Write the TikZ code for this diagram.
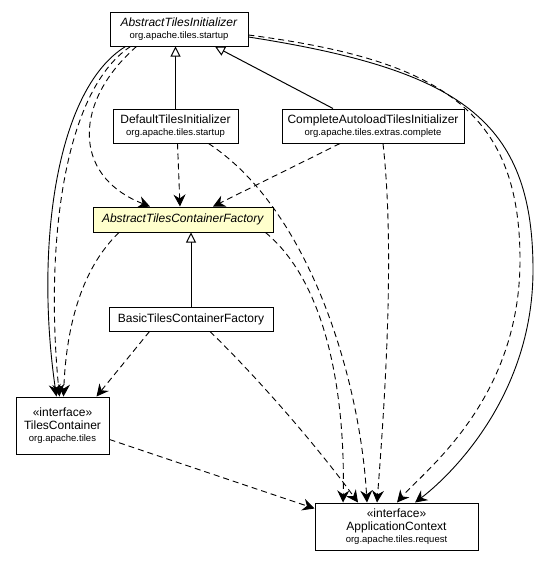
\documentclass[tikz,border=0pt]{standalone}
\usepackage{fontspec}
\setmainfont{Liberation Sans}
\usetikzlibrary{arrows.meta,calc}
\definecolor{absfill}{HTML}{FFFFCC}
\tikzset{
  cls/.style={draw=black, line width=1pt, fill=white, align=center, inner sep=0pt, font=\fontsize{12}{14}\selectfont},
  dep/.style={dashed, dash pattern=on 6pt off 4pt, line width=0.9pt, -{Stealth[length=12pt,width=12pt,inset=4pt]}},
  assoc/.style={line width=0.9pt, -{Stealth[length=12pt,width=12pt,inset=4pt]}},
  gen/.style={line width=1pt, -{Triangle[open,length=10pt,width=10pt,fill=white]}}
}
\newcommand{\pk}[1]{{\fontsize{9.5}{11}\selectfont #1}}
\begin{document}
\begin{tikzpicture}[x=1pt,y=-1pt]
\useasboundingbox (0,0) rectangle (538,563);
\node[cls, minimum width=138, minimum height=34] (ati) at (179,29) {\textit{AbstractTilesInitializer}\\[-2pt]\pk{org.apache.tiles.startup}};
\node[cls, minimum width=125, minimum height=34] (dti) at (175.5,126) {DefaultTilesInitializer\\[-2pt]\pk{org.apache.tiles.startup}};
\node[cls, minimum width=182, minimum height=34] (cati) at (373,126) {CompleteAutoloadTilesInitializer\\[-2pt]\pk{org.apache.tiles.extras.complete}};
\node[cls, fill=absfill, minimum width=180, minimum height=25] (atcf) at (183,219.5) {\textit{AbstractTilesContainerFactory}};
\node[cls, minimum width=164, minimum height=24] (btcf) at (191,319) {BasicTilesContainerFactory};
\node[cls, minimum width=93, minimum height=57] (tc) at (62.5,425.5) {«interface»\\[-1pt]TilesContainer\\[-2pt]\pk{org.apache.tiles}};
\node[cls, minimum width=163, minimum height=47] (ac) at (396.5,526.5) {«interface»\\[-1pt]ApplicationContext\\[-2pt]\pk{org.apache.tiles.request}};

% generalizations
\draw[gen] (dti.north) -- (dti.north |- ati.south);
\draw[gen] ($(cati.north)+(-40,0)$) -- ($(ati.south)+(36,0)$);
\draw[gen] (btcf.north) -- (btcf.north |- atcf.south);

% from AbstractTilesInitializer
\draw[assoc] ($(ati.south west)+(16,0)$) .. controls (55,90) and (35,250) .. ($(tc.north)+(-6,0)$);
\draw[dep] ($(ati.south west)+(21,0)$) .. controls (62,92) and (45,250) .. ($(tc.north)+(-3,0)$);
\draw[dep] ($(ati.south west)+(27,0)$) .. controls (75,100) and (70,175) .. ($(atcf.north)+(-33,0)$);
\draw[dep] ($(ati.east)+(0,6)$) .. controls (440,60) and (520,110) .. (520,260) .. controls (520,400) and (425,470) .. ($(ac.north)+(0.5,0)$);
\draw[assoc] ($(ati.east)+(0,8)$) .. controls (460,70) and (533,120) .. (533,270) .. controls (533,400) and (445,480) .. ($(ac.north)+(18.5,0)$);

% from DefaultTilesInitializer
\draw[dep] ($(dti.south)+(2,0)$) -- ($(atcf.north)+(-3,0)$);
\draw[dep] ($(dti.south east)+(-30,0)$) .. controls (310,210) and (360,380) .. ($(ac.north)+(-29.5,0)$);

% from CompleteAutoloadTilesInitializer
\draw[dep] ($(cati.south)+(-33,0)$) -- ($(atcf.north)+(30,0)$);
\draw[dep] ($(cati.south)+(10,0)$) .. controls (395,250) and (385,400) .. ($(ac.north)+(-19.5,0)$);

% from AbstractTilesContainerFactory
\draw[dep] ($(atcf.south)+(-64,0)$) .. controls (80,270) and (66,330) .. ($(tc.north)+(1,0)$);
\draw[dep] ($(atcf.south east)+(-8,0)$) .. controls (335,290) and (345,420) .. ($(ac.north)+(-53.5,0)$);

% from BasicTilesContainerFactory
\draw[dep] ($(btcf.south west)+(41,0)$) -- ($(tc.north east)+(-13,0)$);
\draw[dep] ($(btcf.south)+(19,0)$) .. controls (260,380) and (320,450) .. ($(ac.north)+(-38.5,0)$);

% from TilesContainer
\draw[dep] ($(tc.east)+(0,14)$) -- ($(ac.west)+(0,-18)$);
\end{tikzpicture}
\end{document}
